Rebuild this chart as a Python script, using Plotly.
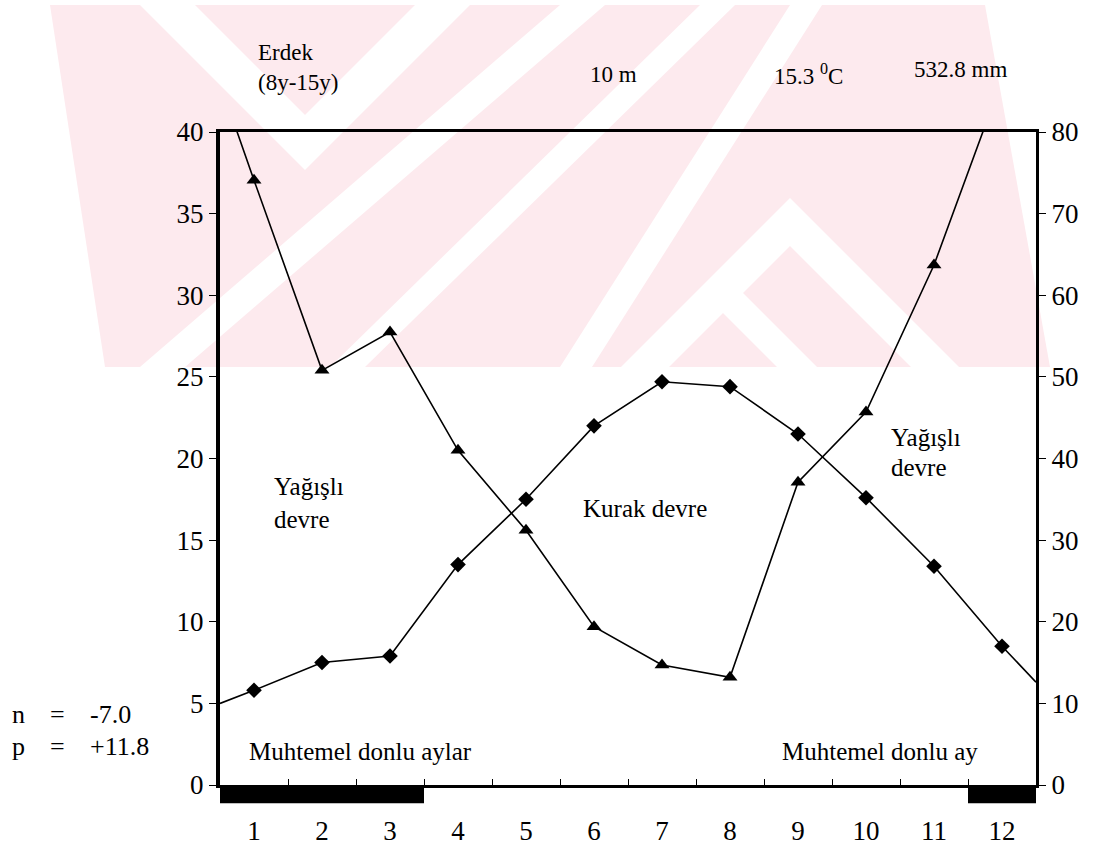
import plotly.graph_objects as go

# Erdek climate diagram (Walter-Lieth style)
months = list(range(1, 13))
month_labels = [str(m) for m in months]

# mean monthly temperature (°C, left axis)
temp_c = [5.8, 7.5, 7.9, 13.5, 17.5, 22.0, 24.7, 24.4, 21.5, 17.6, 13.4, 8.5]
# line ends at the left / right frame (°C)
temp_edge = [5.0, 6.3]

# mean monthly precipitation (mm, right axis)
precip_mm = [74.1, 50.8, 55.5, 41.0, 31.2, 19.4, 14.7, 13.2, 37.1, 45.7, 63.7, 86.4]
precip_edge_left = 86.0

# months with probable frost
frost_months = [1, 2, 3, 12]

SERIF = "Liberation Serif"
PINK = "#fdeaee"

# page geometry of the plotting frame (px)
W, H = 1104, 850
L, R, T, B = 220, 68, 132, 65
PW, PH = W - L - R, H - T - B


def px(x):
    return (x - L) / PW


def py(y):
    return (H - B - y) / PH


fig = go.Figure()

# temperature
fig.add_trace(go.Scatter(
    x=[0.5] + months + [12.5], y=[temp_edge[0]] + temp_c + [temp_edge[1]],
    mode="lines", line=dict(color="black", width=1.6), hoverinfo="skip",
    showlegend=False))
fig.add_trace(go.Scatter(
    x=months, y=temp_c, mode="markers",
    marker=dict(symbol="diamond", size=12, color="black"),
    name="Sıcaklık", showlegend=False))

# precipitation
fig.add_trace(go.Scatter(
    x=[0.5] + months, y=[precip_edge_left] + precip_mm, yaxis="y2",
    mode="lines", line=dict(color="black", width=1.6), hoverinfo="skip",
    showlegend=False))
fig.add_trace(go.Scatter(
    x=months, y=precip_mm, yaxis="y2", mode="markers",
    marker=dict(symbol="triangle-up", size=13, color="black"),
    name="Yağış", showlegend=False))

shapes = []


# faint watermark emblem: pink field cut by white chevrons and stripes
def poly(points, color):
    d = "M " + " L ".join(f"{px(x):.5f},{py(y):.5f}" for x, y in points) + " Z"
    return dict(type="path", xref="paper", yref="paper", path=d,
                fillcolor=color, line=dict(width=0), layer="below")


TOP, BOT = 5, 367
shapes.append(poly([(50, TOP), (985, TOP), (1050, BOT), (105, BOT)], PINK))


def v_down(ax, ay, h):
    d1, d2 = ay - TOP, ay - h - TOP
    return [(ax - d1, TOP), (ax, ay), (ax + d1, TOP), (ax + d2, TOP),
            (ax, ay - h), (ax - d2, TOP)]


def v_up(ax, ay, h):
    d1, d2 = BOT - ay, BOT - ay - h
    return [(ax - d1, BOT), (ax, ay), (ax + d1, BOT), (ax + d2, BOT),
            (ax, ay + h), (ax - d2, BOT)]


def slash(xt0, xt1, xb0, xb1):
    return [(xt0, TOP), (xt1, TOP), (xb1, BOT), (xb0, BOT)]


shapes.append(poly(v_down(305, 170, 55), "white"))
shapes.append(poly(slash(560, 605, 140, 185), "white"))
shapes.append(poly(slash(700, 735, 330, 365), "white"))
shapes.append(poly(v_up(790, 198, 48), "white"))
shapes.append(poly(v_up(722, 272, 40), "white"))
shapes.append(poly(slash(790, 822, 560, 592), "white"))
shapes.append(poly([(0, 0), (W, 0), (W, TOP), (0, TOP)], "white"))

# frost bars under the month axis
for m in frost_months:
    shapes.append(dict(type="rect", xref="x", yref="paper",
                       x0=m - 0.5, x1=m + 0.5, y0=-0.028, y1=0,
                       fillcolor="black", line=dict(width=0), layer="above"))

fig.update_layout(shapes=shapes)

ann = []


def text(x, y, s, anchor="left", size=25):
    ann.append(dict(x=px(x), y=py(y), xref="paper", yref="paper", text=s,
                    showarrow=False, xanchor=anchor, yanchor="middle",
                    align="left", font=dict(family=SERIF, size=size, color="black")))


text(256, 52, "Erdek", size=23)
text(256, 82, "(8y-15y)", size=23)
text(588, 74, "10 m", size=23)
text(772, 74, "15.3 <sup>0</sup>C", size=23)
text(912, 70, "532.8 mm", size=23)
text(272, 487, "Yağışlı")
text(272, 519, "devre")
text(581, 508, "Kurak devre")
text(889, 437, "Yağışlı")
text(889, 467, "devre")
text(10, 714, "n", size=26)
text(48, 714, "=", size=26)
text(88, 714, "-7.0", size=26)
text(10, 746, "p", size=26)
text(48, 746, "=", size=26)
text(88, 746, "+11.8", size=26)
text(247, 751, "Muhtemel donlu aylar")
text(780, 751, "Muhtemel donlu ay")

fig.update_layout(annotations=ann)

tickfont = dict(family=SERIF, size=27, color="black")
fig.update_layout(
    width=W, height=H,
    margin=dict(l=L, r=R, t=T, b=B, autoexpand=False),
    paper_bgcolor="white", plot_bgcolor="rgba(0,0,0,0)",
    showlegend=False,
    xaxis=dict(range=[0.5, 12.5], tickmode="array", tickvals=months,
               ticktext=month_labels, ticks="", tickfont=tickfont,
               ticklabelstandoff=20,
               showline=True, linecolor="black", linewidth=3, mirror=True,
               showgrid=False, zeroline=False, fixedrange=True,
               minor=dict(tickmode="array",
                          tickvals=[m + 0.5 for m in months[:-1]],
                          ticks="inside", ticklen=6, tickwidth=1,
                          tickcolor="black", showgrid=False)),
    yaxis=dict(range=[0, 40], tickmode="linear", tick0=0, dtick=5,
               ticks="outside", ticklen=7, tickwidth=1, tickcolor="black",
               tickfont=tickfont, showline=True, linecolor="black",
               linewidth=4, mirror=False, showgrid=False, zeroline=False,
               fixedrange=True),
    yaxis2=dict(range=[0, 80], tickmode="linear", tick0=0, dtick=10,
                overlaying="y", side="right", ticks="outside", ticklen=7,
                tickwidth=1, tickcolor="black", tickfont=tickfont,
                showline=True, linecolor="black", linewidth=3,
                showgrid=False, zeroline=False, fixedrange=True),
)

fig.write_html("out.html")
